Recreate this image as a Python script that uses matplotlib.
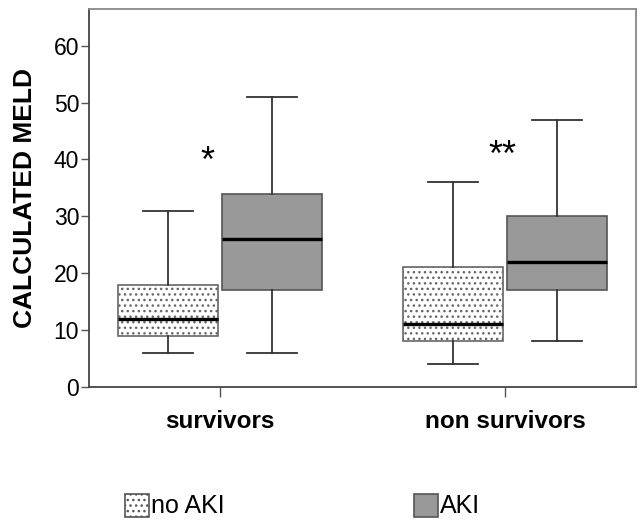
import numpy as np
import matplotlib
matplotlib.use("Agg")
import matplotlib.pyplot as plt
from matplotlib.patches import Rectangle

plt.rcParams['font.family'] = ['Liberation Sans', 'DejaVu Sans']
plt.rcParams['hatch.color'] = '#a8a8a8'
plt.rcParams['hatch.linewidth'] = 1.0

groups = ["survivors", "non survivors"]
series = ["no AKI", "AKI"]
# whislo, q1, median, q3, whishi per group
noaki_lo = [6, 4]
noaki_q1 = [9, 8]
noaki_med = [12, 11]
noaki_q3 = [18, 21]
noaki_hi = [31, 36]
aki_lo = [6, 8]
aki_q1 = [17, 17]
aki_med = [26, 22]
aki_q3 = [34, 30]
aki_hi = [51, 47]
stars = ["*", "**"]

def make_stats(lo, q1, med, q3, hi):
    return [dict(whislo=lo[i], q1=q1[i], med=med[i], q3=q3[i], whishi=hi[i], fliers=[])
            for i in range(len(lo))]

fig = plt.figure(figsize=(6.4, 5.2), dpi=100)
ax = fig.add_axes([0.139, 0.256, 0.855, 0.727])

pos = np.arange(1, len(groups) + 1)
off = 0.183
w = 0.35
lc = '#333333'
common = dict(widths=w, showfliers=False, patch_artist=True,
              whiskerprops=dict(color=lc, lw=1.3),
              capprops=dict(color=lc, lw=1.3),
              medianprops=dict(color='black', lw=2.4),
              manage_ticks=False)

b1 = ax.bxp(make_stats(noaki_lo, noaki_q1, noaki_med, noaki_q3, noaki_hi),
            positions=pos - off, boxprops=dict(facecolor='white', edgecolor='#666666', lw=1.2, hatch='...'),
            **common)
b2 = ax.bxp(make_stats(aki_lo, aki_q1, aki_med, aki_q3, aki_hi),
            positions=pos + off, boxprops=dict(facecolor='#999999', edgecolor='#555555', lw=1.2),
            **common)

for c in b1['caps'] + b2['caps']:
    x = c.get_xdata()
    m = x.mean()
    c.set_xdata([m - w / 4, m + w / 4])

for i, s in enumerate(stars):
    ax.text(pos[i] - 0.046 + (0.036 if i else 0), 39.5 + (1 if i else 0), s,
            ha='center', va='center', fontsize=26)

ax.set_xlim(0.54, 2.46)
ax.set_ylim(0, 66.5)
ax.set_xticks(pos)
ax.set_xticklabels(groups, fontsize=17.5, fontweight='bold')
ax.set_yticks([0, 10, 20, 30, 40, 50, 60])
ax.tick_params(axis='y', labelsize=16.5, length=6, width=1, color='#555555', pad=1)
ax.tick_params(axis='x', length=7, width=1, color='#555555', pad=10)
ax.set_ylabel("CALCULATED MELD", fontsize=19, fontweight='bold', labelpad=12)
for sp in ['left', 'bottom']:
    ax.spines[sp].set_color('#444444')
for sp in ['top', 'right']:
    ax.spines[sp].set_color('#888888')
for sp in ax.spines.values():
    sp.set_linewidth(1.3)

# legend below
leg_x = [125 / 640, 414 / 640]
leg_fc = ['white', '#999999']
leg_hatch = ['...', None]
for i, lab in enumerate(series):
    r = Rectangle((leg_x[i], 1 - 517 / 520), 24 / 640, 23 / 520, transform=fig.transFigure,
                  facecolor=leg_fc[i], edgecolor='#555555', lw=1.2, hatch=leg_hatch[i])
    fig.add_artist(r)
    fig.text(leg_x[i] + 26 / 640, 1 - 506 / 520, lab, fontsize=18, va='center', ha='left')

fig.savefig("out.png", dpi=100)
